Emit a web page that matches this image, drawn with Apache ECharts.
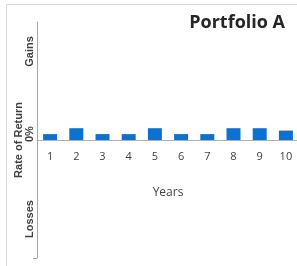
<!DOCTYPE html>
<html>
<head>
<meta charset="utf-8">
<script src="https://cdn.jsdelivr.net/npm/echarts@6/dist/echarts.min.js"></script>
<style>
  html, body { margin: 0; padding: 0; background: #fff; }
  #main { width: 297px; height: 266px; }
</style>
</head>
<body>
<div id="main"></div>
<script>
let years = ['1', '2', '3', '4', '5', '6', '7', '8', '9', '10'];
let returns = [0.5, 1, 0.5, 0.5, 1, 0.5, 0.5, 1, 1, 0.8];
let yLabelValues = [7.5, 0.5, -6.7];
let yLabelTexts = ['Gains', '0%', 'Losses'];

let myChart = echarts.init(document.getElementById('main'));

let options = {
    animation: false,
    title: {
        text: 'Portfolio A',
        right: 7,
        top: 9,
        textStyle: {
            fontFamily: 'Open Sans',
            fontSize: 18,
            fontWeight: 'bold',
            color: '#262626'
        }
    },
    graphic: [
        {
            type: 'rect',
            shape: { x: 6.5, y: 4.5, width: 400, height: 400 },
            style: { fill: 'none', stroke: '#d9d9d9', lineWidth: 1 },
            silent: true
        }
    ],
    grid: {
        left: 37,
        top: 22,
        width: 262,
        height: 236,
        containLabel: false,
        outerBoundsMode: 'none'
    },
    xAxis: {
        type: 'category',
        data: years,
        name: 'Years',
        nameLocation: 'middle',
        nameGap: 47,
        nameTextStyle: {
            fontFamily: 'Open Sans',
            fontSize: 12,
            color: '#404040'
        },
        // sit the axis on the 0% line (half the plot height above the bottom)
        offset: -118,
        axisLine: { onZero: false, lineStyle: { color: '#b0b0b0' } },
        axisTick: { length: 3, lineStyle: { color: '#b0b0b0' } },
        axisLabel: {
            margin: 11,
            fontFamily: 'Open Sans',
            fontSize: 11,
            color: '#404040'
        }
    },
    yAxis: {
        type: 'value',
        min: -10,
        max: 10,
        interval: 10,
        name: 'Rate of Return',
        nameLocation: 'middle',
        nameGap: 13,
        nameMoveOverlap: false,
        nameTextStyle: {
            fontFamily: 'Liberation Sans',
            fontSize: 11,
            fontWeight: 'bold',
            color: '#404040'
        },
        splitLine: { show: false },
        axisLine: { show: true, lineStyle: { color: '#a6a6a6' } },
        axisTick: {
            show: true,
            length: 4,
            customValues: [-10],
            lineStyle: { color: '#a6a6a6' }
        },
        axisLabel: {
            customValues: yLabelValues,
            rotate: 90,
            margin: 2,
            fontFamily: 'Liberation Sans',
            fontSize: 11,
            fontWeight: 'bold',
            color: '#404040',
            formatter: function (v) {
                let i = yLabelValues.indexOf(v);
                return i >= 0 ? yLabelTexts[i] : '';
            }
        }
    },
    series: [
        {
            type: 'bar',
            data: returns,
            barWidth: 14,
            itemStyle: { color: '#0b72d4' }
        }
    ]
};
myChart.setOption(options);
</script>
</body>
</html>
